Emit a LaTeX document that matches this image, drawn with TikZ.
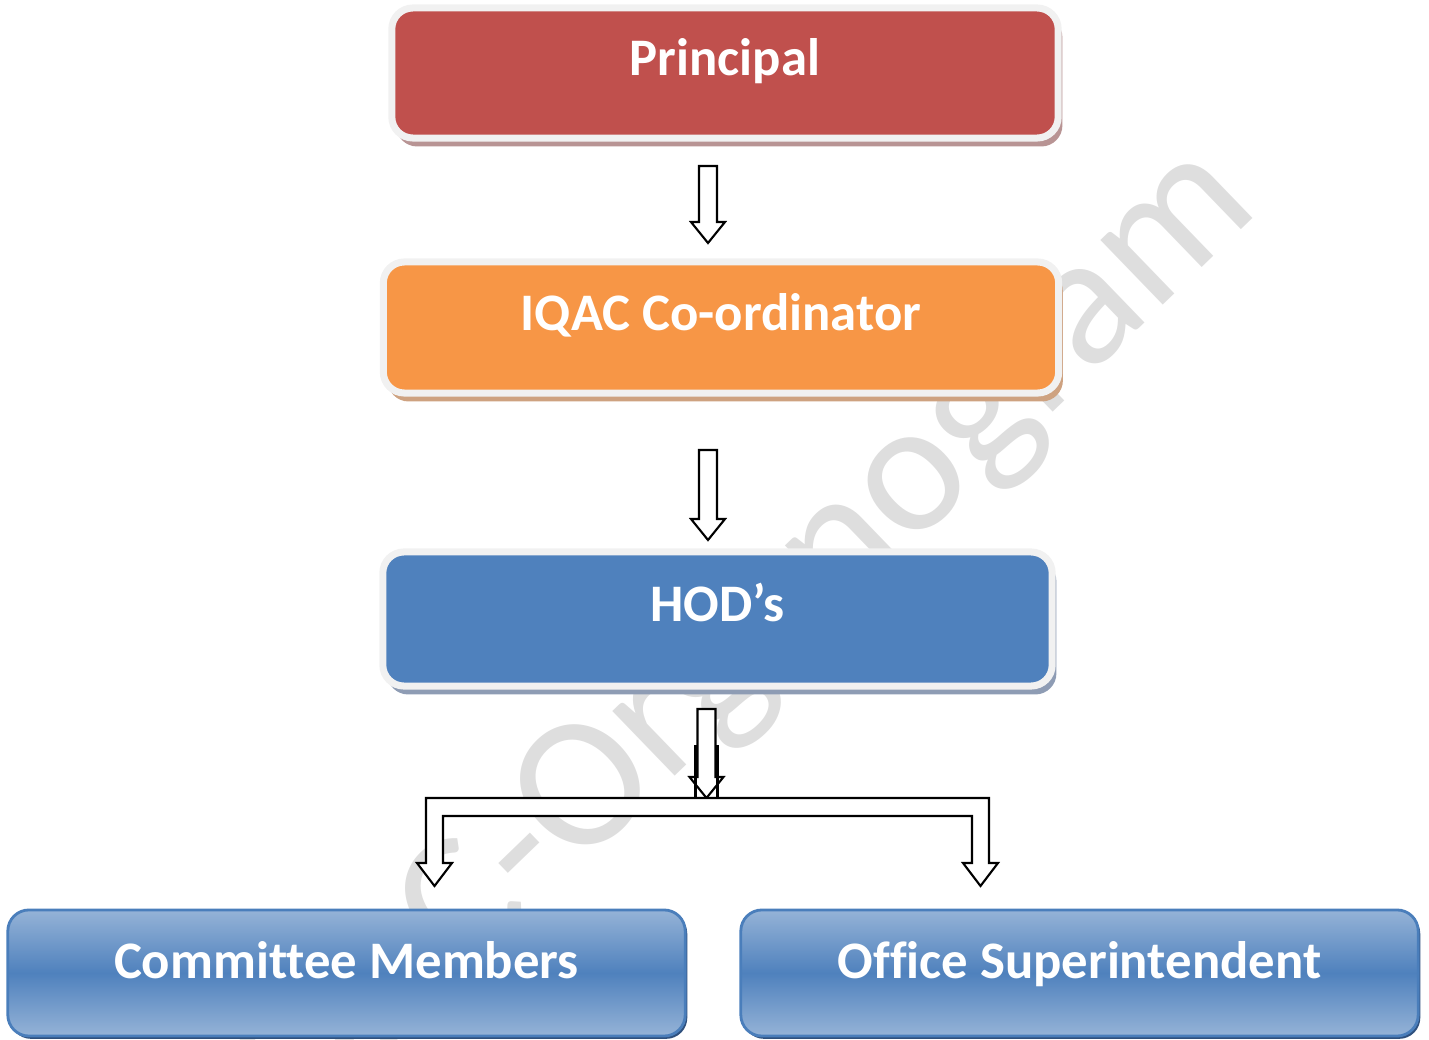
\documentclass[tikz,border=0pt]{standalone}
\usepackage{fontspec}
\setmainfont{Carlito}[Ligatures={NoCommon}]
\usepackage{tikz}
\usetikzlibrary{calc,positioning,shadows}
\definecolor{prinred}{RGB}{192,80,77}
\definecolor{prinshade}{RGB}{184,148,148}
\definecolor{iqacorange}{RGB}{247,150,70}
\definecolor{iqacshade}{RGB}{206,162,128}
\definecolor{hodblue}{RGB}{79,129,189}
\definecolor{hodshade}{RGB}{142,156,180}
\definecolor{lightblue}{RGB}{149,179,215}
\definecolor{edgeblue}{RGB}{74,126,187}
\definecolor{deepblue}{RGB}{47,80,125}
\definecolor{framegray}{RGB}{241,241,241}
\definecolor{wmgray}{RGB}{222,222,222}
\tikzstyle{topbox}  = [rectangle, rounded corners=6pt, draw=framegray, line width=2pt, text=white, font=\fontsize{15}{18}\selectfont\bfseries, text height=5pt, text depth=3.3pt, inner sep=0pt]
\tikzstyle{leafbox} = [rectangle, rounded corners=6pt, draw=edgeblue, line width=0.8pt, top color=lightblue, bottom color=lightblue, middle color=hodblue, text=white, font=\fontsize{15}{18}\selectfont\bfseries, text height=5pt, text depth=1.9pt, inner sep=0pt, minimum width=6.77cm, minimum height=1.26cm, drop shadow={shadow xshift=0.6pt, shadow yshift=-0.8pt, fill=deepblue, opacity=1}]
\tikzstyle{wmark}   = [text=wmgray, font=\fontsize{53.5}{60}\selectfont, inner sep=0pt]

\begin{document}
\begin{tikzpicture}[x=0.01cm, y=-0.01cm,
		blockarr/.style={draw=black, line width=0.6pt, fill=white,
				to path={($(\tikztostart)+(-9,0)$) -- ($(\tikztotarget)+(-9,-21)$) -- ($(\tikztotarget)+(-17,-21)$) -- (\tikztotarget) -- ($(\tikztotarget)+(17,-21)$) -- ($(\tikztotarget)+(9,-21)$) -- ($(\tikztostart)+(9,0)$) -- cycle}},
		barline/.style={draw=black, line width=0.6pt, fill=white}]

	\useasboundingbox (0,0) rectangle (1429,1040);

	% watermark
	\node[wmark, rotate=44, anchor=base east] (wm) at (1262,210) {IQAC-Organogram};

	% boxes
	\node[topbox, fill=prinred, minimum width=6.66cm, minimum height=1.30cm,
		drop shadow={shadow xshift=1.2pt, shadow yshift=-2.4pt, fill=prinshade, opacity=1}] (prin) at (725,73) {Principal};
	\node[topbox, fill=iqacorange, minimum width=6.75cm, minimum height=1.31cm,
		drop shadow={shadow xshift=1.2pt, shadow yshift=-2.4pt, fill=iqacshade, opacity=1}] (iqac) at (721,327.5) {IQAC Co-ordinator};
	\node[topbox, fill=hodblue, minimum width=6.69cm, minimum height=1.34cm,
		drop shadow={shadow xshift=1.2pt, shadow yshift=-2.4pt, fill=hodshade, opacity=1}] (hod) at (717.5,619) {HOD’s};
	\node[leafbox] (comm) at (346.5,973) {Committee Members};
	\node[leafbox] (offs) at (1079.5,973) {Office Superintendent};

	% arrows
	\coordinate (a1s) at (708,166);
	\coordinate (a1e) at (708,243);
	\coordinate (a2s) at (708,450);
	\coordinate (a2e) at (708,540);
	\coordinate (a3s) at (706.5,709);
	\coordinate (hub) at (706.5,798);
	\coordinate (cmtip) at (434.5,886);
	\coordinate (ostip) at (980.5,886);

	\draw[blockarr] (a1s) to (a1e);
	\draw[blockarr] (a2s) to (a2e);
	\draw[blockarr] (a3s) to (hub);

	\draw[barline] ($(cmtip|-hub)+(-8.5,0)$) -- ($(ostip|-hub)+(8.5,0)$) -- ($(ostip)+(8.5,-23)$) -- ($(ostip)+(17.5,-23)$) -- (ostip)
		-- ($(ostip)+(-17.5,-23)$) -- ($(ostip)+(-8.5,-23)$) -- ($(ostip|-hub)+(-8.5,18)$) -- ($(cmtip|-hub)+(8.5,18)$)
		-- ($(cmtip)+(8.5,-23)$) -- ($(cmtip)+(17.5,-23)$) -- (cmtip) -- ($(cmtip)+(-17.5,-23)$) -- ($(cmtip)+(-8.5,-23)$) -- cycle;
	\draw[line width=0.6pt] ($(hub)+(-11,0)$) -- ($(hub)+(-11,-53)$);
	\draw[line width=0.6pt] ($(hub)+(11,0)$) -- ($(hub)+(11,-53)$);
\end{tikzpicture}
\end{document}
